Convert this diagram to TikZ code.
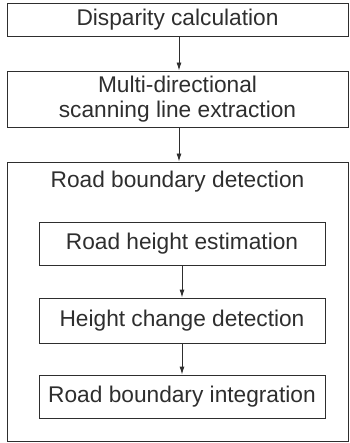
\documentclass[tikz,border=0pt]{standalone}
\usepackage{fontspec}
\setmainfont{Liberation Sans}
\usetikzlibrary{arrows.meta,positioning}
\definecolor{inkgray}{HTML}{2E2E2E}

\begin{document}
\begin{tikzpicture}[x=1pt,y=1pt,every node/.style={font=\fontsize{22.7}{25}\selectfont,text=inkgray},
  stage/.style={draw=inkgray,line width=0.9pt,align=center,inner sep=0pt},
  flow/.style={draw=inkgray,line width=0.9pt,-{Latex[length=8pt,width=5pt]}}]
\useasboundingbox (0,0) rectangle (349,-443);
\node[stage,minimum width=341,minimum height=33] (disp) at (177.5,-19.5) {Disparity calculation};
\node[stage,minimum width=341,minimum height=56] (scan) at (177.5,-99) {Multi-directional\\scanning line extraction};
\node[stage,minimum width=341,minimum height=279] (road) at (177.5,-301.5) {};
\node[below=6pt of road.north] (title) {Road boundary detection};
\node[stage,minimum width=286,minimum height=43] (hgt) at (182,-243.5) {Road height estimation};
\node[stage,minimum width=286,minimum height=45] (chg) at (182,-320.5) {Height change detection};
\node[stage,minimum width=286,minimum height=43] (intg) at (182,-396.5) {Road boundary integration};
\draw[flow] (disp.south -| 179,0) -- (scan.north -| 179,0);
\draw[flow] (scan.south -| 179,0) -- (road.north -| 179,0);
\draw[flow] (hgt) -- (chg);
\draw[flow] (chg) -- (intg);
\end{tikzpicture}
\end{document}
